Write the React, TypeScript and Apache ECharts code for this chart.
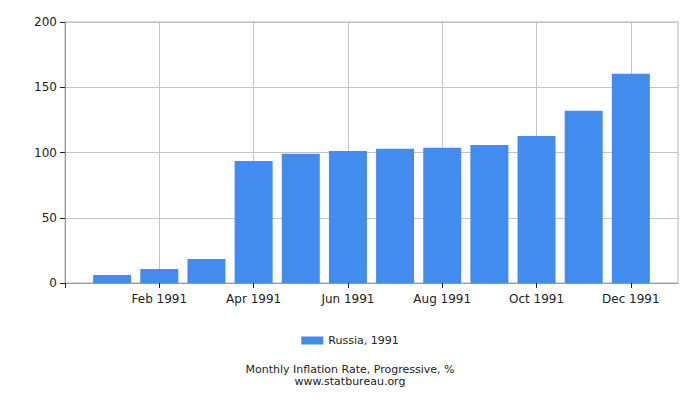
import { useEffect, useRef } from 'react';
import * as echarts from 'echarts';

// time axis runs from Dec 1990 to Jan 1992; bars only for 1991
const months = [
  'Dec 1990', 'Jan 1991', 'Feb 1991', 'Mar 1991', 'Apr 1991', 'May 1991', 'Jun 1991',
  'Jul 1991', 'Aug 1991', 'Sep 1991', 'Oct 1991', 'Nov 1991', 'Dec 1991', 'Jan 1992',
];
const russia1991 = [null, 6.1, 10.7, 18.4, 93.5, 99.0, 101.2, 102.8, 103.6, 105.8, 112.7, 131.9, 160.3, null];
const seriesName = 'Russia, 1991';
const chartTitle = 'Monthly Inflation Rate, Progressive, %';
const source = 'www.statbureau.org';

const font = 'DejaVu Sans';
const everyOther = (i: number) => i % 2 === 0;
const labelled = (i: number) => i % 2 === 0 && i > 0 && i < months.length - 1;

export default function App() {
  const ref = useRef<HTMLDivElement>(null);

  useEffect(() => {
    if (!ref.current) return;
    const chart = echarts.init(ref.current, undefined, { renderer: 'svg' });
    chart.setOption({
      animation: false,
      textStyle: { fontFamily: font },
      grid: {
        left: 65, right: 22, top: 22, bottom: 117,
        show: true, borderColor: '#b4b4b4', borderWidth: 1,
      },
      title: {
        text: chartTitle,
        subtext: source,
        left: 'center',
        top: 364,
        itemGap: 1,
        padding: 0,
        textStyle: { fontSize: 11, lineHeight: 11, fontWeight: 'normal', color: '#222', fontFamily: font },
        subtextStyle: { fontSize: 11, lineHeight: 11, color: '#222', fontFamily: font },
      },
      legend: {
        data: [seriesName],
        left: 'center',
        top: 330,
        itemWidth: 22,
        itemHeight: 8,
        itemGap: 5,
        icon: 'rect',
        textStyle: { fontSize: 11, color: '#222', fontFamily: font },
      },
      xAxis: {
        type: 'category',
        data: months,
        boundaryGap: false,
        axisLine: { lineStyle: { color: '#999' } },
        axisTick: { show: true, interval: everyOther, length: 5, lineStyle: { color: '#222' } },
        axisLabel: { interval: labelled, fontSize: 12, color: '#222', margin: 10, fontFamily: font },
        splitLine: { show: true, interval: labelled, lineStyle: { color: '#c4c4c4' } },
      },
      yAxis: {
        type: 'value',
        min: 0,
        max: 200,
        interval: 50,
        axisLine: { show: true, lineStyle: { color: '#999' } },
        axisTick: { show: true, length: 5, lineStyle: { color: '#222' } },
        axisLabel: { fontSize: 12, color: '#222', margin: 8, fontFamily: font },
        splitLine: { show: true, lineStyle: { color: '#c4c4c4' } },
      },
      series: [
        {
          name: seriesName,
          type: 'bar',
          data: russia1991,
          barWidth: 38,
          itemStyle: { color: '#428bef' },
        },
      ],
    });
    return () => chart.dispose();
  }, []);

  return <div ref={ref} style={{ width: 700, height: 400, margin: -8 }} />;
}
